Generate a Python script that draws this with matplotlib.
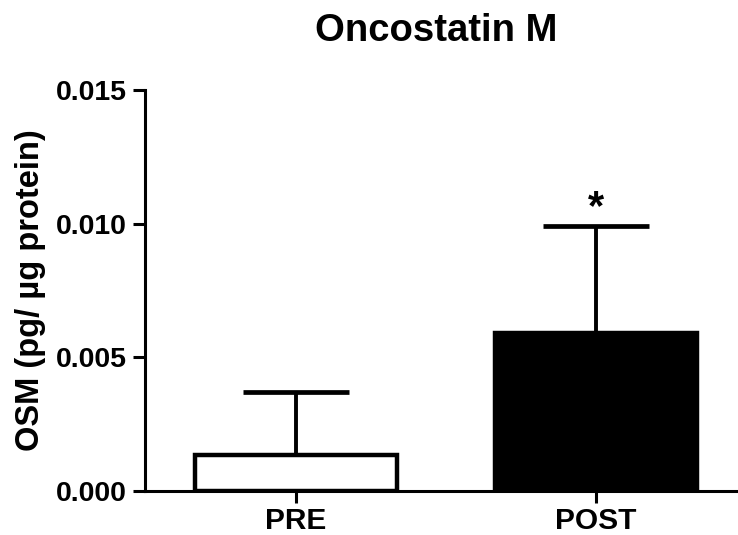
import matplotlib

matplotlib.use("Agg")

import matplotlib.pyplot as plt  # noqa: E402

plt.rcParams["font.family"] = ["Liberation Sans", "DejaVu Sans"]
plt.rcParams["font.weight"] = "bold"

groups = ["PRE", "POST"]
means = [0.00135, 0.0059]
sem_upper = [0.00235, 0.0040]
bar_colors = ["white", "black"]
y_ticks = [0.000, 0.005, 0.010, 0.015]
y_tick_labels = ["0.000", "0.005", "0.010", "0.015"]

fig = plt.figure(figsize=(7.38, 5.35), dpi=100)
ax = fig.add_axes([0.1965, 0.0822, 0.8035, 0.7496])

x = list(range(len(groups)))
ax.bar(x, means, width=0.673, color=bar_colors, edgecolor="black", linewidth=3.2, zorder=2)
ax.errorbar(
    x,
    means,
    yerr=[[0] * len(means), sem_upper],
    fmt="none",
    ecolor="black",
    elinewidth=2.8,
    capsize=38,
    capthick=3.4,
    zorder=1,
)

# significance marker above POST
ax.text(1, means[1] + sem_upper[1] + 0.0007, "*", ha="center", va="center",
        fontsize=30, fontweight="bold")

ax.set_xlim(-0.503, 1.473)
ax.set_ylim(0, 0.015)
ax.set_xticks(x)
ax.set_xticklabels(groups, fontsize=21.5, fontweight="bold")
ax.set_yticks(y_ticks)
ax.set_yticklabels(y_tick_labels, fontsize=20.5, fontweight="bold")
ax.set_ylabel("OSM (pg/ µg protein)", fontsize=23.5, fontweight="bold", labelpad=7)

for side in ["top", "right"]:
    ax.spines[side].set_visible(False)
for side in ["left", "bottom"]:
    ax.spines[side].set_linewidth(2.2)
ax.tick_params(axis="both", width=2.2, length=8.5, direction="out")
ax.tick_params(axis="y", pad=4.5)
ax.tick_params(axis="x", pad=3)

fig.text(0.591, 0.942, "Oncostatin M", ha="center", va="center",
         fontsize=27.5, fontweight="bold")

fig.savefig("out.png", dpi=100)
